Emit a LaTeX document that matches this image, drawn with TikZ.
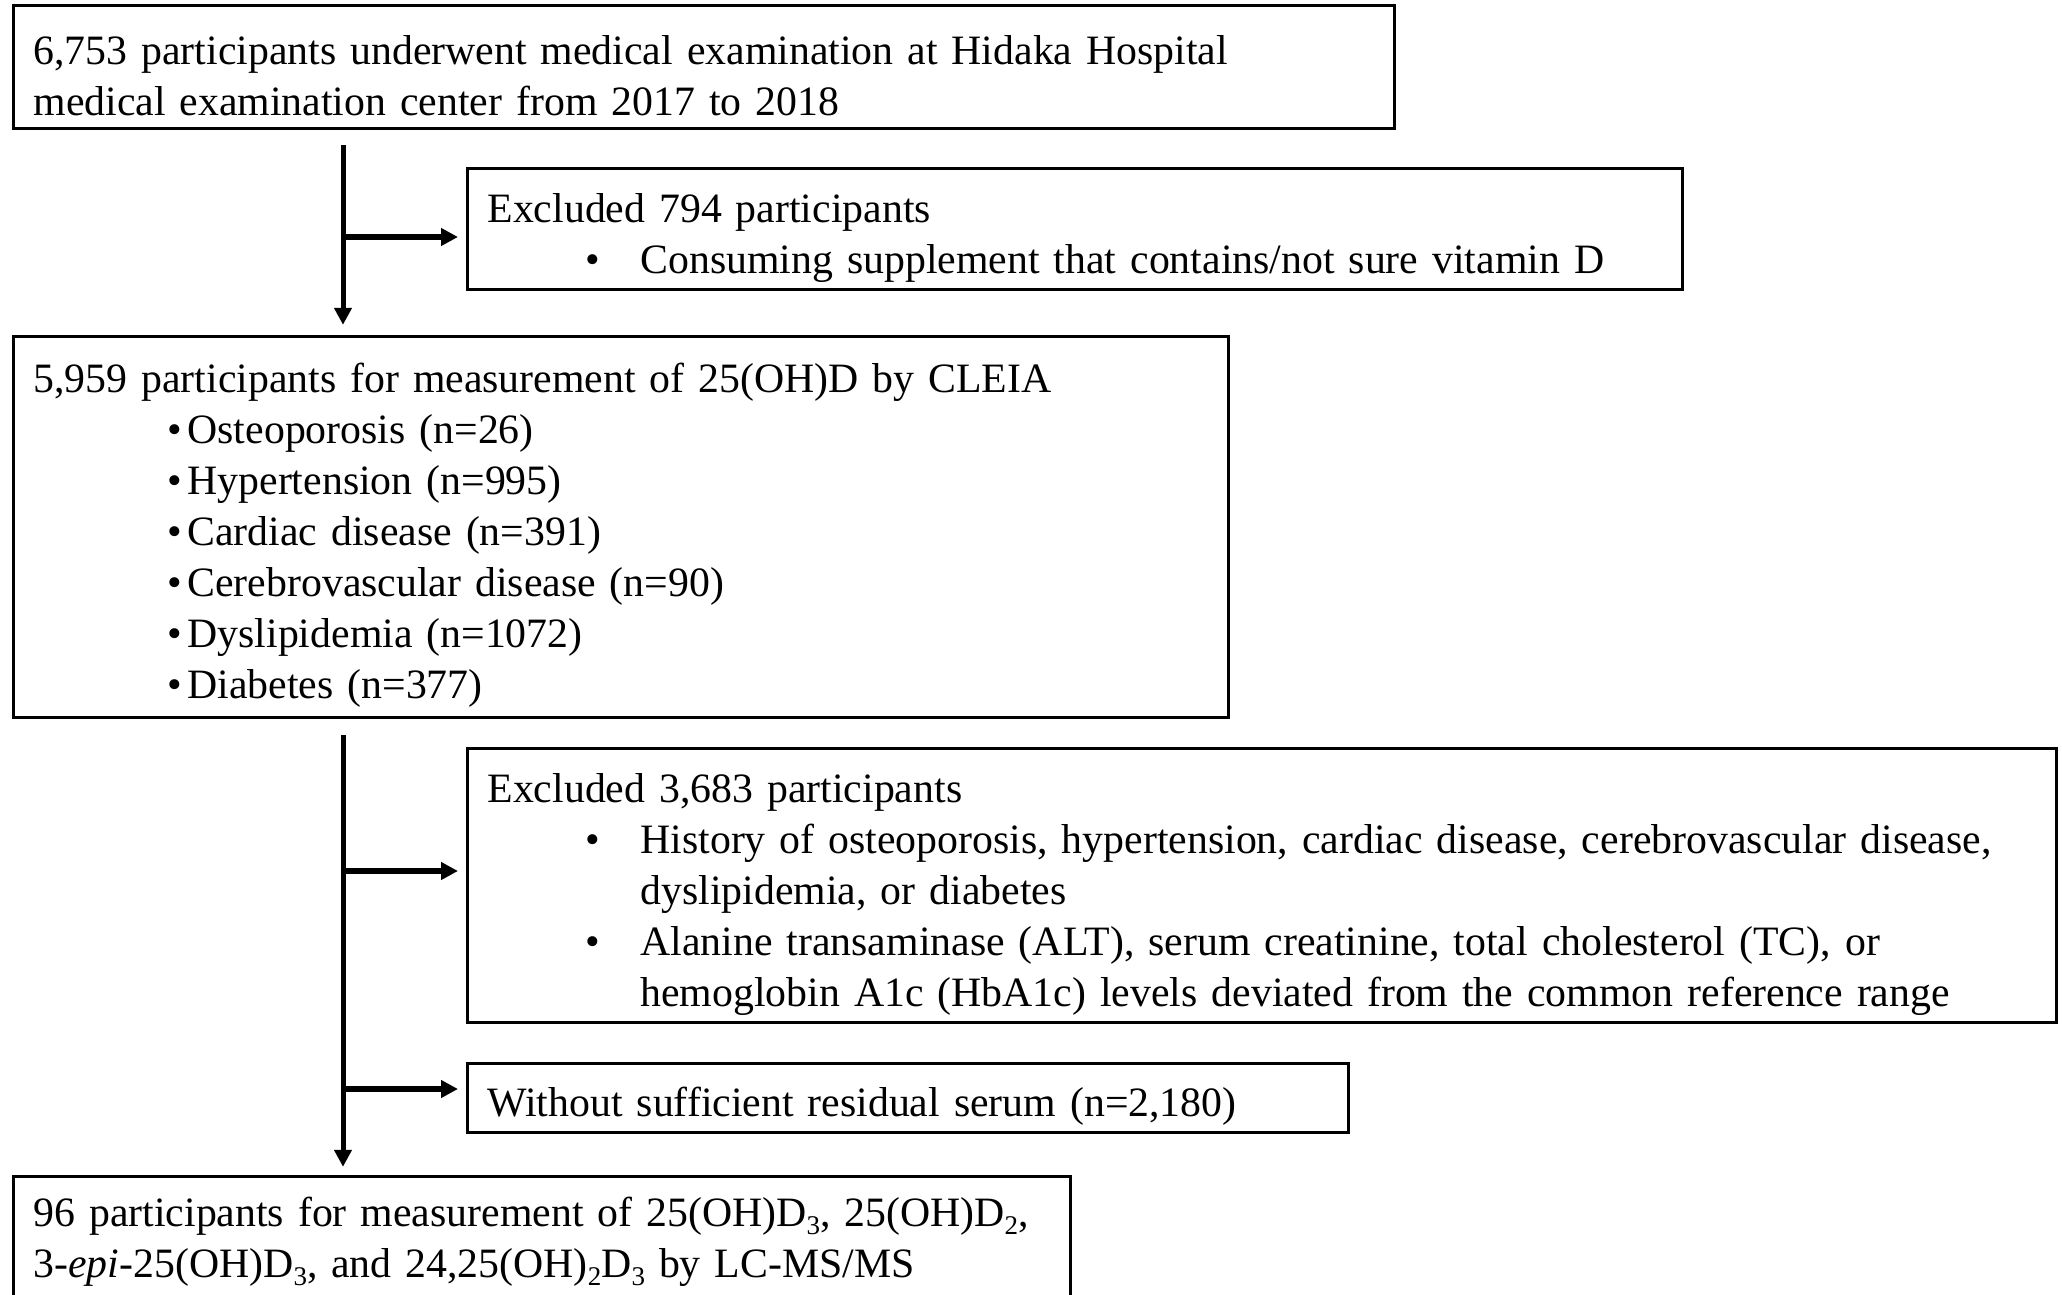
\documentclass[tikz,border=0pt]{standalone}
\usepackage{fontspec}
\setmainfont{Liberation Serif}
\usetikzlibrary{arrows.meta, positioning}

\newcommand{\bitem}[2]{\hspace*{#1}\rlap{\textbullet}\hspace*{#2}}
\newcommand{\lowsub}[1]{\raisebox{-0.45ex}{\fontsize{13.5pt}{13.5pt}\selectfont #1}}
\newcommand{\topstrut}{\rule{0pt}{23.5pt}}

\begin{document}
\begin{tikzpicture}[
    x=0.5pt, y=-0.5pt,
    node distance=20pt,
    flow_box/.style={rectangle, draw, line width=1.5pt, inner xsep=10pt, inner ysep=0pt, align=left, font=\fontsize{20.9pt}{25.5pt}\selectfont},
    trunk_flow/.style={-{Triangle[length=8.5pt, width=8.5pt]}, line width=2.5pt},
    side_flow/.style={-{Triangle[length=8.5pt, width=8.5pt]}, line width=2.75pt, shorten >=4pt}
]
    \clip (0,0) rectangle (2062,1295);

    % Main flow
    \node[flow_box, anchor=north west, text width=670.5pt, minimum height=61.5pt] (b1) at (12,4)
        {\topstrut 6,753 participants underwent medical examination at Hidaka Hospital\\
         medical examination center from 2017 to 2018};
    \node[flow_box, below=18.7pt of b1.south west, anchor=north west, xshift=227pt, text width=587.5pt, minimum height=60.5pt] (b2)
        {\topstrut Excluded 794 participants\\
         \bitem{49pt}{27.5pt}Consuming supplement that contains/not sure vitamin D};
    \node[flow_box, below=21.7pt of b2.south west, anchor=north west, xshift=-227pt, text width=587.5pt, minimum height=190.5pt] (b3)
        {\topstrut 5,959 participants for measurement of 25(OH)D by CLEIA\\
         \bitem{67pt}{10pt}Osteoporosis (n=26)\\
         \bitem{67pt}{10pt}Hypertension (n=995)\\
         \bitem{67pt}{10pt}Cardiac disease (n=391)\\
         \bitem{67pt}{10pt}Cerebrovascular disease (n=90)\\
         \bitem{67pt}{10pt}Dyslipidemia (n=1072)\\
         \bitem{67pt}{10pt}Diabetes (n=377)};
    \node[flow_box, below=14pt of b3.south west, anchor=north west, xshift=227pt, text width=774.5pt, minimum height=137pt] (b4)
        {\topstrut Excluded 3,683 participants\\
         \bitem{49pt}{27.5pt}History of osteoporosis, hypertension, cardiac disease, cerebrovascular disease,\\
         \hspace*{76.5pt}dyslipidemia, or diabetes\\
         \bitem{49pt}{27.5pt}Alanine transaminase (ALT), serum creatinine, total cholesterol (TC), or\\
         \hspace*{76.5pt}hemoglobin A1c (HbA1c) levels deviated from the common reference range};
    \node[flow_box, below=19pt of b4.south west, anchor=north west, text width=420.5pt, minimum height=34.5pt] (b5)
        {\topstrut Without sufficient residual serum (n=2,180)};
    \node[flow_box, below=20.5pt of b5.south west, anchor=north west, xshift=-227pt, text width=508.5pt, minimum height=65pt] (b6)
        {\mbox{96 participants for measurement of 25(OH)D\lowsub{3}, 25(OH)D\lowsub{2},}\\
         3-\textit{epi}-25(OH)D\lowsub{3}, and 24,25(OH)\lowsub{2}D\lowsub{3} by LC-MS/MS};

    % Junctions on the trunk
    \coordinate (j1) at (343,237);
    \coordinate (j2) at (343,871);
    \coordinate (j3) at (343,1089);

    % Connections
    \draw[trunk_flow, shorten <=7.5pt, shorten >=5pt] (j1 |- b1.south) -- (j1 |- b3.north);
    \draw[side_flow] (j1) -- (j1 -| b2.west);
    \draw[trunk_flow, shorten <=8pt, shorten >=4pt] (j2 |- b3.south) -- (j2 |- b6.north);
    \draw[side_flow] (j2) -- (j2 -| b4.west);
    \draw[side_flow] (j3) -- (j3 -| b5.west);

\end{tikzpicture}
\end{document}
